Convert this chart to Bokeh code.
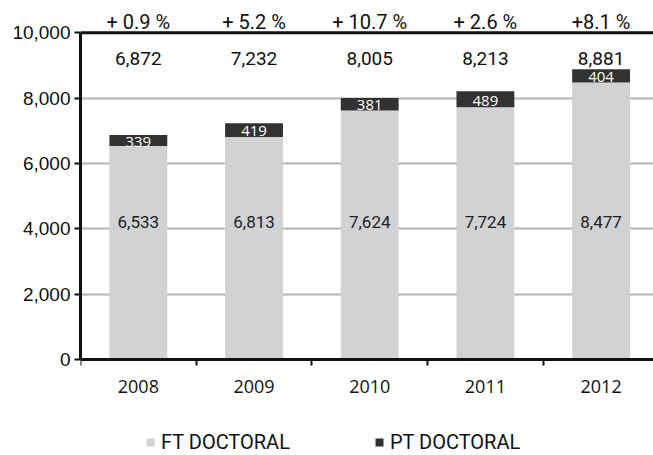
from bokeh.plotting import figure
from bokeh.models import (ColumnDataSource, LabelSet, Span, FixedTicker, Legend, LegendItem,
                          NumeralTickFormatter, LinearAxis)
from bokeh.core.properties import value
from bokeh.embed import file_html
from bokeh.resources import INLINE

years = ["2008", "2009", "2010", "2011", "2012"]
ft_doctoral = [6533, 6813, 7624, 7724, 8477]
pt_doctoral = [339, 419, 381, 489, 404]
totals = [6872, 7232, 8005, 8213, 8881]
pct_change = ["+ 0.9 %", "+ 5.2 %", "+ 10.7 %", "+ 2.6 %", "+8.1 %"]

x = list(range(len(years)))
src = ColumnDataSource(dict(
    x=x, ft=ft_doctoral, pt=pt_doctoral,
    ft_lbl=[f"{v:,}" for v in ft_doctoral],
    pt_lbl=[str(v) for v in pt_doctoral],
    tot_lbl=[f"{v:,}" for v in totals],
    pct=pct_change,
    ft_y=[4200] * len(x),
    pt_y=[f + p * 0.4 for f, p in zip(ft_doctoral, pt_doctoral)],
    tot_y=[9220] * len(x),
    pct_y=[10320] * len(x),
))

p = figure(frame_width=573, frame_height=455, x_range=(-0.5, 4.453), y_range=(-2938, 10989),
           output_backend="svg", toolbar_location=None, x_axis_location=None,
           min_border_left=80, min_border_right=0, min_border_top=0, min_border_bottom=0)
p.outline_line_color = None
p.background_fill_color = "white"

LIGHT = "#d1d2d4"
DARK = "#323232"
INK = "#111111"

rs = p.vbar_stack(["ft", "pt"], x="x", width=0.5, source=src,
                  color=[LIGHT, DARK], line_color=None)

# x axis placed at y = 0 inside the frame
xaxis = LinearAxis(fixed_location=0)
xaxis.ticker = FixedTicker(ticks=x, minor_ticks=[-0.5, 0.5, 1.5, 2.5, 3.5])
xaxis.major_label_overrides = {i: y for i, y in enumerate(years)}
xaxis.major_tick_out = 0
xaxis.major_tick_in = 0
xaxis.minor_tick_out = 6
xaxis.minor_tick_in = 0
xaxis.minor_tick_line_color = INK
xaxis.minor_tick_line_width = 2
xaxis.axis_line_width = 3
xaxis.axis_line_color = INK
xaxis.major_label_text_font = "Open Sans"
xaxis.major_label_text_font_size = "18px"
xaxis.major_label_text_color = INK
xaxis.major_label_standoff = 14
p.add_layout(xaxis, "below")

p.yaxis.ticker = FixedTicker(ticks=[0, 2000, 4000, 6000, 8000, 10000])
p.yaxis.bounds = (0, 10000)
p.yaxis.formatter = NumeralTickFormatter(format="0,0")
p.yaxis.major_tick_out = 6
p.yaxis.major_tick_in = 0
p.yaxis.minor_tick_line_color = None
p.yaxis.major_tick_line_width = 2
p.yaxis.major_tick_line_color = INK
p.yaxis.axis_line_width = 3
p.yaxis.axis_line_color = INK
p.yaxis.major_label_text_font = "Liberation Sans"
p.yaxis.major_label_text_font_size = "19px"
p.yaxis.major_label_text_color = INK
p.yaxis.major_label_standoff = 4

p.xgrid.grid_line_color = None
p.ygrid.ticker = FixedTicker(ticks=[2000, 4000, 6000, 8000])
p.ygrid.grid_line_color = "#b3b3b3"
p.ygrid.grid_line_width = 2

p.add_layout(Span(location=10000, dimension="width", line_color=INK, line_width=3))

p.add_layout(LabelSet(x="x", y="ft_y", text="ft_lbl", source=src, text_align="center",
                      text_baseline="middle", text_font=value("Roboto"),
                      text_font_size="17px", text_color="#222222"))
p.add_layout(LabelSet(x="x", y="pt_y", text="pt_lbl", source=src, text_align="center",
                      text_baseline="middle", text_font=value("Open Sans"),
                      text_font_size="15px", text_color="white"))
p.add_layout(LabelSet(x="x", y="tot_y", text="tot_lbl", source=src, text_align="center",
                      text_baseline="middle", text_font=value("Roboto"),
                      text_font_size="19px", text_color=INK))
p.add_layout(LabelSet(x="x", y="pct_y", text="pct", source=src, text_align="center",
                      text_baseline="middle", text_font=value("Roboto"),
                      text_font_size="20px", text_color=INK))

legend = Legend(items=[LegendItem(label="FT DOCTORAL", renderers=[rs[0]]),
                       LegendItem(label="PT DOCTORAL", renderers=[rs[1]])],
                orientation="horizontal", location=(65, 1),
                glyph_width=10, glyph_height=10, label_standoff=6, spacing=84,
                padding=0, margin=0, border_line_color=None, background_fill_alpha=0,
                label_text_font="Roboto", label_text_font_size="20px",
                label_text_color=INK)
p.add_layout(legend)

open("out.html", "w").write(file_html(p, INLINE))
